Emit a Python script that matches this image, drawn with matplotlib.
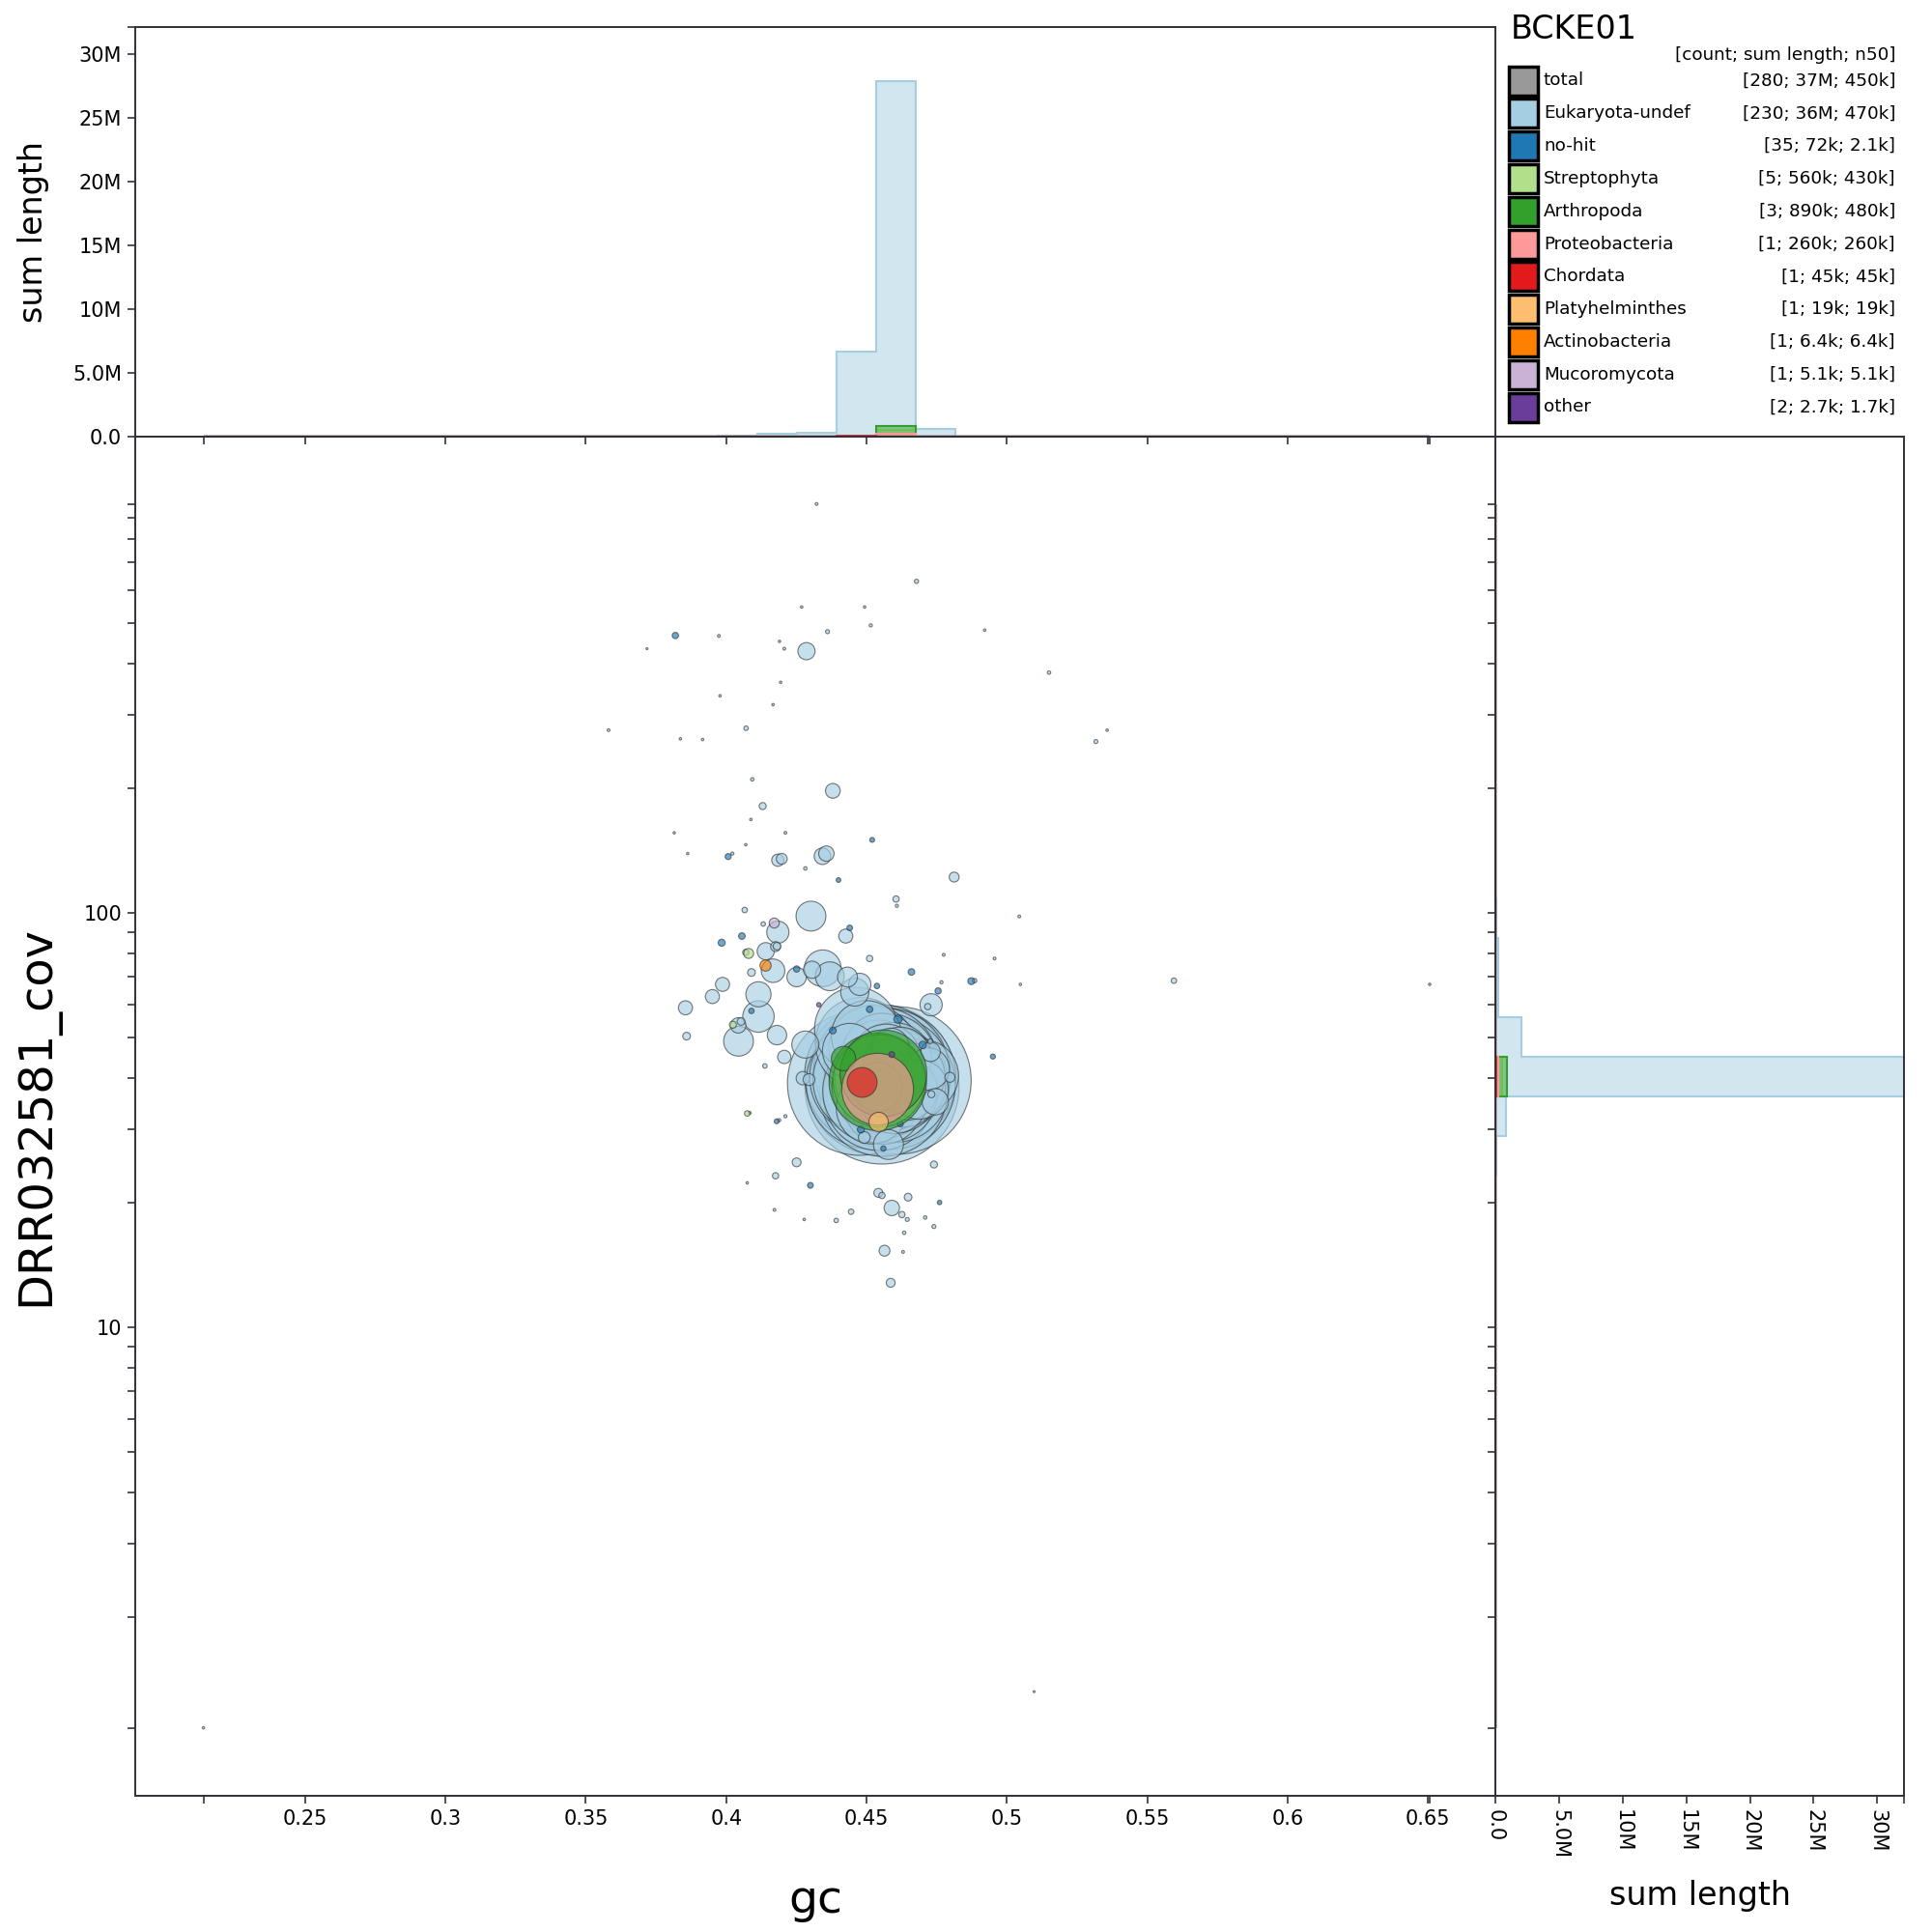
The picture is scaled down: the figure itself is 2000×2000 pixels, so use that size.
import matplotlib
matplotlib.use('Agg')
import matplotlib.pyplot as plt
import numpy as np
from matplotlib.colors import to_rgba
from matplotlib.patches import Rectangle
from matplotlib.ticker import FixedLocator, NullFormatter

# ---- data: rows are (gc, coverage, length in kb) ----
euk_large = [
    (0.4555, 38.0, 1200), (0.4475, 38.8, 1050), (0.4610, 39.4, 1100), (0.4550, 39.5, 1150),
    (0.4530, 40.5, 1000), (0.4570, 40.0, 980), (0.4548, 41.2, 930), (0.4520, 38.8, 880),
    (0.4585, 38.5, 850), (0.4560, 36.8, 820), (0.4535, 42.0, 790), (0.4575, 41.8, 760),
    (0.4510, 40.2, 720), (0.4592, 40.6, 690), (0.4552, 43.0, 660), (0.4545, 36.4, 630),
    (0.4600, 37.8, 600), (0.4500, 39.5, 580), (0.4568, 42.8, 560), (0.4528, 37.2, 540),
    (0.4610, 39.6, 510), (0.4538, 42.5, 490), (0.4580, 36.6, 470),
]
euk_medium = [
    (0.4560, 40.5, 460), (0.4545, 38.0, 450), (0.4590, 39.0, 440), (0.4572, 37.5, 430),
    (0.4538, 41.5, 420), (0.4605, 41.0, 410), (0.4550, 43.5, 400), (0.4565, 36.5, 390),
    (0.4620, 38.2, 380), (0.4540, 39.8, 370), (0.4595, 42.5, 360), (0.4578, 40.8, 350),
    (0.4555, 37.0, 345), (0.4630, 40.2, 340), (0.4545, 44.0, 330), (0.4610, 36.8, 320),
    (0.4585, 43.8, 310), (0.4568, 38.8, 300), (0.4640, 39.0, 290), (0.4550, 41.8, 285),
    (0.4600, 44.2, 280), (0.4575, 36.3, 275), (0.4625, 42.2, 270), (0.4560, 39.2, 265),
    (0.4650, 41.0, 260), (0.4540, 37.8, 255), (0.4590, 37.2, 250), (0.4615, 43.5, 245),
    (0.4570, 44.5, 240), (0.4660, 38.0, 235), (0.4548, 40.0, 230), (0.4635, 36.6, 225),
    (0.4580, 41.5, 220), (0.4605, 39.8, 215), (0.4665, 40.5, 210), (0.4558, 42.6, 205),
    (0.4595, 38.4, 200), (0.4620, 44.6, 195), (0.4573, 39.6, 190), (0.4645, 37.4, 185),
    (0.4588, 40.2, 420), (0.4562, 38.0, 400), (0.4600, 41.2, 380),
    (0.4545, 41.0, 180), (0.4565, 38.5, 150), (0.4575, 43.2, 120),
    (0.4463, 52.5, 350), (0.4480, 48.5, 420), (0.4520, 47.0, 380), (0.4555, 46.2, 300),
    (0.4500, 50.5, 250), (0.4440, 46.5, 150), (0.4586, 47.5, 70),
    (0.4578, 27.6, 45), (0.4560, 34.5, 320), (0.4520, 33.8, 260), (0.4600, 35.2, 220),
    (0.4700, 40.5, 260), (0.4685, 37.5, 180), (0.4720, 42.0, 90), (0.4730, 60.0, 25),
    (0.4745, 35.0, 35),
]
euk_scatter = [
    (0.2138, 1.08, 0.3), (0.6506, 67.2, 0.3), (0.4322, 970, 0.4), (0.5097, 1.32, 0.2),
    (0.4678, 631, 0.9), (0.4269, 547, 0.3), (0.4493, 547, 0.3), (0.4515, 494, 0.5),
    (0.4361, 477, 0.8), (0.3974, 466, 0.4), (0.4190, 452, 0.3), (0.4207, 434, 0.4),
    (0.4286, 428, 15), (0.4921, 481, 0.3), (0.3718, 434, 0.2), (0.3978, 334, 0.3),
    (0.5150, 380, 0.6), (0.4194, 360, 0.3), (0.4167, 318, 0.3), (0.3581, 276, 0.4),
    (0.4071, 279, 1.0), (0.3837, 263, 0.3), (0.3916, 262, 0.3), (0.5317, 259, 0.8),
    (0.5357, 276, 0.3), (0.4093, 210, 0.6), (0.4380, 197, 11), (0.4130, 181, 2.5),
    (0.4088, 168, 0.3), (0.4211, 156, 0.4), (0.3815, 156, 0.3), (0.4070, 146, 0.3),
    (0.4022, 139, 0.5), (0.3863, 139, 0.3), (0.4184, 134, 7.6), (0.4343, 137, 14),
    (0.4282, 128, 0.6), (0.4812, 122, 5), (0.4605, 108, 2), (0.4608, 104, 0.5),
    (0.4066, 101.6, 1.5), (0.5044, 98, 0.4), (0.4302, 98.2, 45), (0.4184, 89.8, 25),
    (0.4132, 94, 1.0), (0.4426, 87.9, 10), (0.4181, 83.1, 3), (0.4070, 80.3, 2),
    (0.4141, 80.8, 15), (0.4176, 82.9, 5), (0.4090, 71.8, 3), (0.4775, 79.2, 0.4),
    (0.4956, 77.6, 0.4), (0.4511, 77.6, 2), (0.4344, 73.5, 68), (0.4306, 72.9, 15),
    (0.4369, 70.3, 42), (0.4167, 72.5, 28), (0.4251, 70.0, 19), (0.4432, 70.0, 20),
    (0.4476, 67.2, 25), (0.4458, 64.4, 40), (0.3987, 67.2, 10), (0.3951, 62.8, 10),
    (0.4115, 56.2, 50), (0.4115, 63.6, 32), (0.4053, 54.7, 3), (0.4043, 53.5, 12),
    (0.3855, 59.0, 10), (0.4044, 49.0, 45), (0.4181, 50.7, 19), (0.4282, 48.1, 37),
    (0.3859, 50.4, 3), (0.4207, 44.9, 9), (0.4138, 42.7, 1.0), (0.4273, 39.9, 9),
    (0.4295, 39.6, 7), (0.4084, 32.9, 0.4), (0.4211, 32.3, 0.5), (0.4189, 31.6, 0.5),
    (0.4251, 25.0, 4), (0.4176, 23.2, 2), (0.4075, 22.3, 0.3), (0.4542, 21.1, 4),
    (0.4555, 20.8, 2), (0.4648, 20.6, 3), (0.4590, 19.4, 12), (0.4172, 19.2, 0.4),
    (0.4278, 18.2, 0.3), (0.4392, 18.1, 1), (0.4445, 19.0, 1.5), (0.4626, 18.7, 2),
    (0.4645, 18.2, 0.8), (0.4709, 18.4, 0.6), (0.4740, 17.5, 0.8), (0.4634, 16.9, 0.6),
    (0.4564, 15.3, 6), (0.4630, 15.2, 0.4), (0.4586, 12.8, 4), (0.5595, 68.6, 1.5),
    (0.5048, 67.2, 0.3), (0.4885, 68.6, 1.0), (0.4767, 68.0, 0.5), (0.4718, 59.4, 2),
    (0.4740, 24.7, 2.5), (0.4731, 36.5, 2.5), (0.4198, 135, 6), (0.4357, 139, 12),
    (0.4728, 46.2, 19), (0.4797, 40.1, 5), (0.4727, 49.0, 1.2), (0.4492, 28.7, 7),
]
nohit = [
    (0.3819, 467, 2.0), (0.4007, 136.7, 1.8), (0.4056, 87.9, 2.2), (0.3984, 84.7, 2.5),
    (0.4612, 55.4, 3.5), (0.4251, 73.2, 2.0), (0.4537, 66.6, 1.5), (0.4755, 64.8, 2.0),
    (0.4873, 68.4, 2.4), (0.4180, 31.4, 1.2), (0.4511, 58.5, 2.1), (0.4440, 92.0, 1.6),
    (0.4700, 48.0, 2.8), (0.4380, 52.0, 2.3), (0.4620, 31.0, 1.9), (0.4480, 30.0, 2.6),
    (0.4560, 27.0, 1.4), (0.4400, 120.0, 1.1), (0.4950, 45.0, 1.3), (0.4300, 22.0, 1.7),
    (0.4660, 72.0, 2.2), (0.4090, 58.0, 1.5), (0.4760, 20.0, 1.0), (0.4520, 150.0, 1.2),
    (0.4520, 41.0, 4.0), (0.4580, 38.0, 5.0), (0.4550, 43.0, 6.0), (0.4600, 36.0, 3.0),
    (0.4490, 40.0, 3.5),
]
streptophyta = [(0.4545, 39.3, 430), (0.4540, 38.0, 120), (0.4080, 79.8, 5),
                (0.4024, 53.7, 2.5), (0.4075, 32.8, 1.5)]
arthropoda = [(0.4540, 39.1, 480), (0.4560, 41.0, 380), (0.4418, 44.5, 30)]
proteobacteria = [(0.4538, 37.7, 260)]
chordata = [(0.4483, 39.1, 45)]
platyhelminthes = [(0.4541, 31.4, 19)]
actinobacteria = [(0.4138, 74.7, 6.4)]
mucoromycota = [(0.4170, 94.8, 5.1)]
other = [(0.4590, 45.5, 1.7), (0.4330, 60.0, 1.0)]

taxa = ['Eukaryota-undef', 'no-hit', 'Streptophyta', 'Arthropoda', 'Proteobacteria',
        'Chordata', 'Platyhelminthes', 'Actinobacteria', 'Mucoromycota', 'other']
taxon_rows = [euk_large + euk_medium + euk_scatter, nohit, streptophyta, arthropoda,
              proteobacteria, chordata, platyhelminthes, actinobacteria, mucoromycota, other]
colours = ['#a6cee3', '#1f78b4', '#b2df8a', '#33a02c', '#fb9a99',
           '#e31a1c', '#fdbf6f', '#ff7f00', '#cab2d6', '#6a3d9a']

legend_names = ['total'] + taxa
legend_colours = ['#999999'] + colours
legend_stats = ['[280; 37M; 450k]', '[230; 36M; 470k]', '[35; 72k; 2.1k]', '[5; 560k; 430k]',
                '[3; 890k; 480k]', '[1; 260k; 260k]', '[1; 45k; 45k]', '[1; 19k; 19k]',
                '[1; 6.4k; 6.4k]', '[1; 5.1k; 5.1k]', '[2; 2.7k; 1.7k]']

hist_ticks = [0, 5e6, 10e6, 15e6, 20e6, 25e6, 30e6]
hist_tick_labels = ['0.0', '5.0M', '10M', '15M', '20M', '25M', '30M']
hist_max = 32.1e6
gc_tick_values = [0.25, 0.3, 0.35, 0.4, 0.45, 0.5, 0.55, 0.6, 0.65]
gc_tick_labels = ['0.25', '0.3', '0.35', '0.4', '0.45', '0.5', '0.55', '0.6', '0.65']

# ---- arrays ----
groups = []
for rows in taxon_rows:
    arr = np.array(rows, dtype=float)
    arr = arr[np.argsort(-arr[:, 2])]  # big first so small blobs stay visible
    groups.append(arr)
all_gc = np.concatenate([g[:, 0] for g in groups])
all_cov = np.concatenate([g[:, 1] for g in groups])
gc_bins = np.linspace(all_gc.min(), all_gc.max(), 32)
cov_bins = np.logspace(np.log10(all_cov.min()), np.log10(all_cov.max()), 32)

spine_col = '#30303c'
fig = plt.figure(figsize=(20, 20), dpi=100)
ax_main = fig.add_axes([0.07, 0.0705, 0.704, 0.7035])
ax_top = fig.add_axes([0.07, 0.774, 0.704, 0.212], sharex=ax_main)
ax_right = fig.add_axes([0.774, 0.0705, 0.2115, 0.7035], sharey=ax_main)
ax_leg = fig.add_axes([0.774, 0.774, 0.2135, 0.226])

for arr, col in zip(groups, colours):
    ax_main.scatter(arr[:, 0], arr[:, 1], s=arr[:, 2] * 1000 / 91, c=col,
                    edgecolors='#333333', linewidths=0.8, alpha=0.65)
    w = arr[:, 2] * 1000
    ax_top.hist(arr[:, 0], bins=gc_bins, weights=w, histtype='stepfilled',
                facecolor=to_rgba(col, 0.5), edgecolor=col, linewidth=1.5)
    ax_right.hist(arr[:, 1], bins=cov_bins, weights=w, histtype='stepfilled',
                  orientation='horizontal', facecolor=to_rgba(col, 0.5),
                  edgecolor=col, linewidth=1.5)

ax_main.set_yscale('log')
ax_main.set_xlim(0.1895, 0.674)
ax_main.set_ylim(0.74, 1410)
ax_main.set_xticks([all_gc.min()] + gc_tick_values + [all_gc.max()])
ax_main.set_xticklabels([''] + gc_tick_labels + [''])
ax_main.set_yticks([all_cov.min(), 10, 100, all_cov.max()])
ax_main.set_yticklabels(['', '10', '100', ''])
minor = [k * 10 ** e for e in (0, 1, 2) for k in range(2, 10)]
ax_main.yaxis.set_minor_locator(FixedLocator(minor))
ax_main.yaxis.set_minor_formatter(NullFormatter())

ax_top.set_ylim(0, hist_max)
ax_top.set_yticks(hist_ticks + [hist_max])
ax_top.set_yticklabels(hist_tick_labels + [''])
ax_top.tick_params(axis='x', labelbottom=False)

ax_right.set_xlim(0, hist_max)
ax_right.set_xticks(hist_ticks + [hist_max])
ax_right.set_xticklabels(hist_tick_labels + [''], rotation=-90)
ax_right.tick_params(axis='y', which='both', labelleft=False)

for ax in (ax_main, ax_top, ax_right):
    ax.tick_params(which='both', direction='out', length=6, width=1.1,
                   color='#222222', labelsize=15, pad=4)
    for sp in ax.spines.values():
        sp.set_color(spine_col)
        sp.set_linewidth(1.4)

ax_main.set_xlabel('gc', fontsize=34)
ax_main.xaxis.set_label_coords(0.5, -0.061)
ax_main.set_ylabel('DRR032581_cov', fontsize=34.5)
ax_main.yaxis.set_label_coords(-0.056, 0.5)
ax_top.set_ylabel('sum length', fontsize=24)
ax_top.yaxis.set_label_coords(-0.063, 0.5)
ax_right.set_xlabel('sum length', fontsize=24)
ax_right.xaxis.set_label_coords(0.5, -0.062)

# legend drawn in pixel units of its own box
ax_leg.set_xlim(0, 427)
ax_leg.set_ylim(452, 0)
ax_leg.axis('off')
ax_leg.text(16, 30, 'BCKE01', fontsize=24, va='center', ha='left')
ax_leg.text(414, 57, '[count; sum length; n50]', fontsize=13.2, va='center', ha='right')
for i, (name, col, stat) in enumerate(zip(legend_names, legend_colours, legend_stats)):
    yc = 83.5 + 33.8 * i
    ax_leg.add_patch(Rectangle((14, yc - 15), 30, 30, facecolor=col,
                               edgecolor='black', linewidth=2.5))
    ax_leg.text(50, yc, name, fontsize=13.2, va='center', ha='left')
    ax_leg.text(414, yc, stat, fontsize=13.2, va='center', ha='right')

fig.savefig('out.png', dpi=100)
